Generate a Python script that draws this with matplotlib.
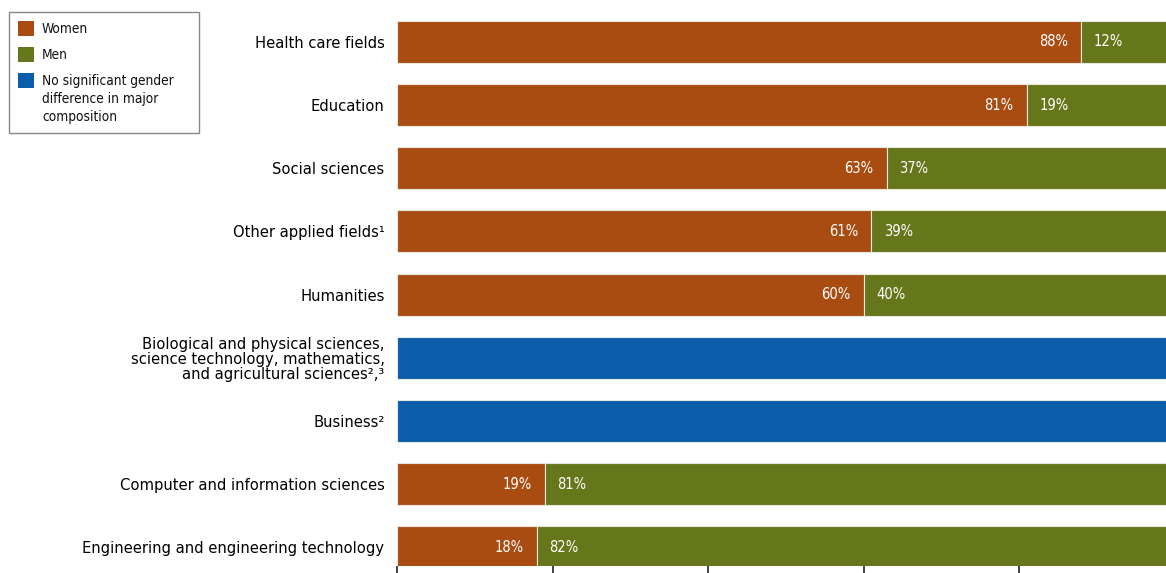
import matplotlib
matplotlib.use("Agg")
import matplotlib.pyplot as plt
from matplotlib.patches import Rectangle

plt.rcParams['font.family'] = ['DejaVu Sans']
plt.rcParams['font.stretch'] = 'condensed'

categories = [
    "Health care fields",
    "Education",
    "Social sciences",
    "Other applied fields\u00b9",
    "Humanities",
    "Biological and physical sciences,\nscience technology, mathematics,\nand agricultural sciences\u00b2,\u00b3",
    "Business\u00b2",
    "Computer and information sciences",
    "Engineering and engineering technology",
]
women = [88, 81, 63, 61, 60, None, None, 19, 18]
men = [12, 19, 37, 39, 40, None, None, 81, 82]
no_diff = [None, None, None, None, None, 100, 100, None, None]
legend_labels = ["Women", "Men", "No significant gender\ndifference in major\ncomposition"]

C_WOMEN = "#A94C11"
C_MEN = "#66761A"
C_BLUE = "#0A5DA9"
EDGE = "#E8E8E0"

W, H = 1166, 573
fig = plt.figure(figsize=(W / 100, H / 100), dpi=100)
ax = fig.add_axes([397 / W, 7 / H, 1 - 397 / W, (566 - 14) / H])

h = 0.665
for i, cat in enumerate(categories):
    if no_diff[i] is not None:
        ax.barh(i, no_diff[i], height=h, color=C_BLUE, edgecolor=EDGE, linewidth=0.8)
        continue
    w, m = women[i], men[i]
    ax.barh(i, w, height=h, color=C_WOMEN, edgecolor=EDGE, linewidth=0.8)
    ax.barh(i, m, left=w, height=h, color=C_MEN, edgecolor=EDGE, linewidth=0.8)
    ax.annotate(f"{w}%", xy=(w, i), xytext=(-9.5, 0), textcoords="offset points",
                ha="right", va="center", color="white", fontsize=10.5)
    ax.annotate(f"{m}%", xy=(w, i), xytext=(9, 0), textcoords="offset points",
                ha="left", va="center", color="white", fontsize=10.5)

ax.set_xlim(0, 98.9)
ax.set_ylim(8.296, -0.443)
ax.set_yticks(range(len(categories)))
ax.set_yticklabels(categories, fontsize=11.8, linespacing=1.0)
ax.tick_params(axis="y", length=0, pad=9)
ax.set_xticks([0, 20, 40, 60, 80])
ax.set_xticklabels([])
ax.tick_params(axis="x", direction="out", length=5, width=1.2, color="#222222")
for s in ax.spines.values():
    s.set_visible(False)

# legend drawn manually in figure pixel coordinates (top-left origin)
def fx(px):
    return px / W

def fy(py):
    return 1 - py / H

fig.patches.append(Rectangle((fx(9), fy(133)), fx(199) - fx(9), fy(12) - fy(133),
                             transform=fig.transFigure, facecolor="white",
                             edgecolor="#888888", linewidth=1.0))
leg_colors = [C_WOMEN, C_MEN, C_BLUE]
sq_top = [21, 47, 73]
for col, top, lab in zip(leg_colors, sq_top, legend_labels):
    fig.patches.append(Rectangle((fx(18), fy(top + 15)), fx(34) - fx(18), fy(top) - fy(top + 15),
                                 transform=fig.transFigure, facecolor=col, edgecolor="none"))
    fig.text(fx(42), fy(top + 1), lab, ha="left", va="top", fontsize=9.8,
             linespacing=1.35, color="#111111")

fig.savefig("out.png", dpi=100)
